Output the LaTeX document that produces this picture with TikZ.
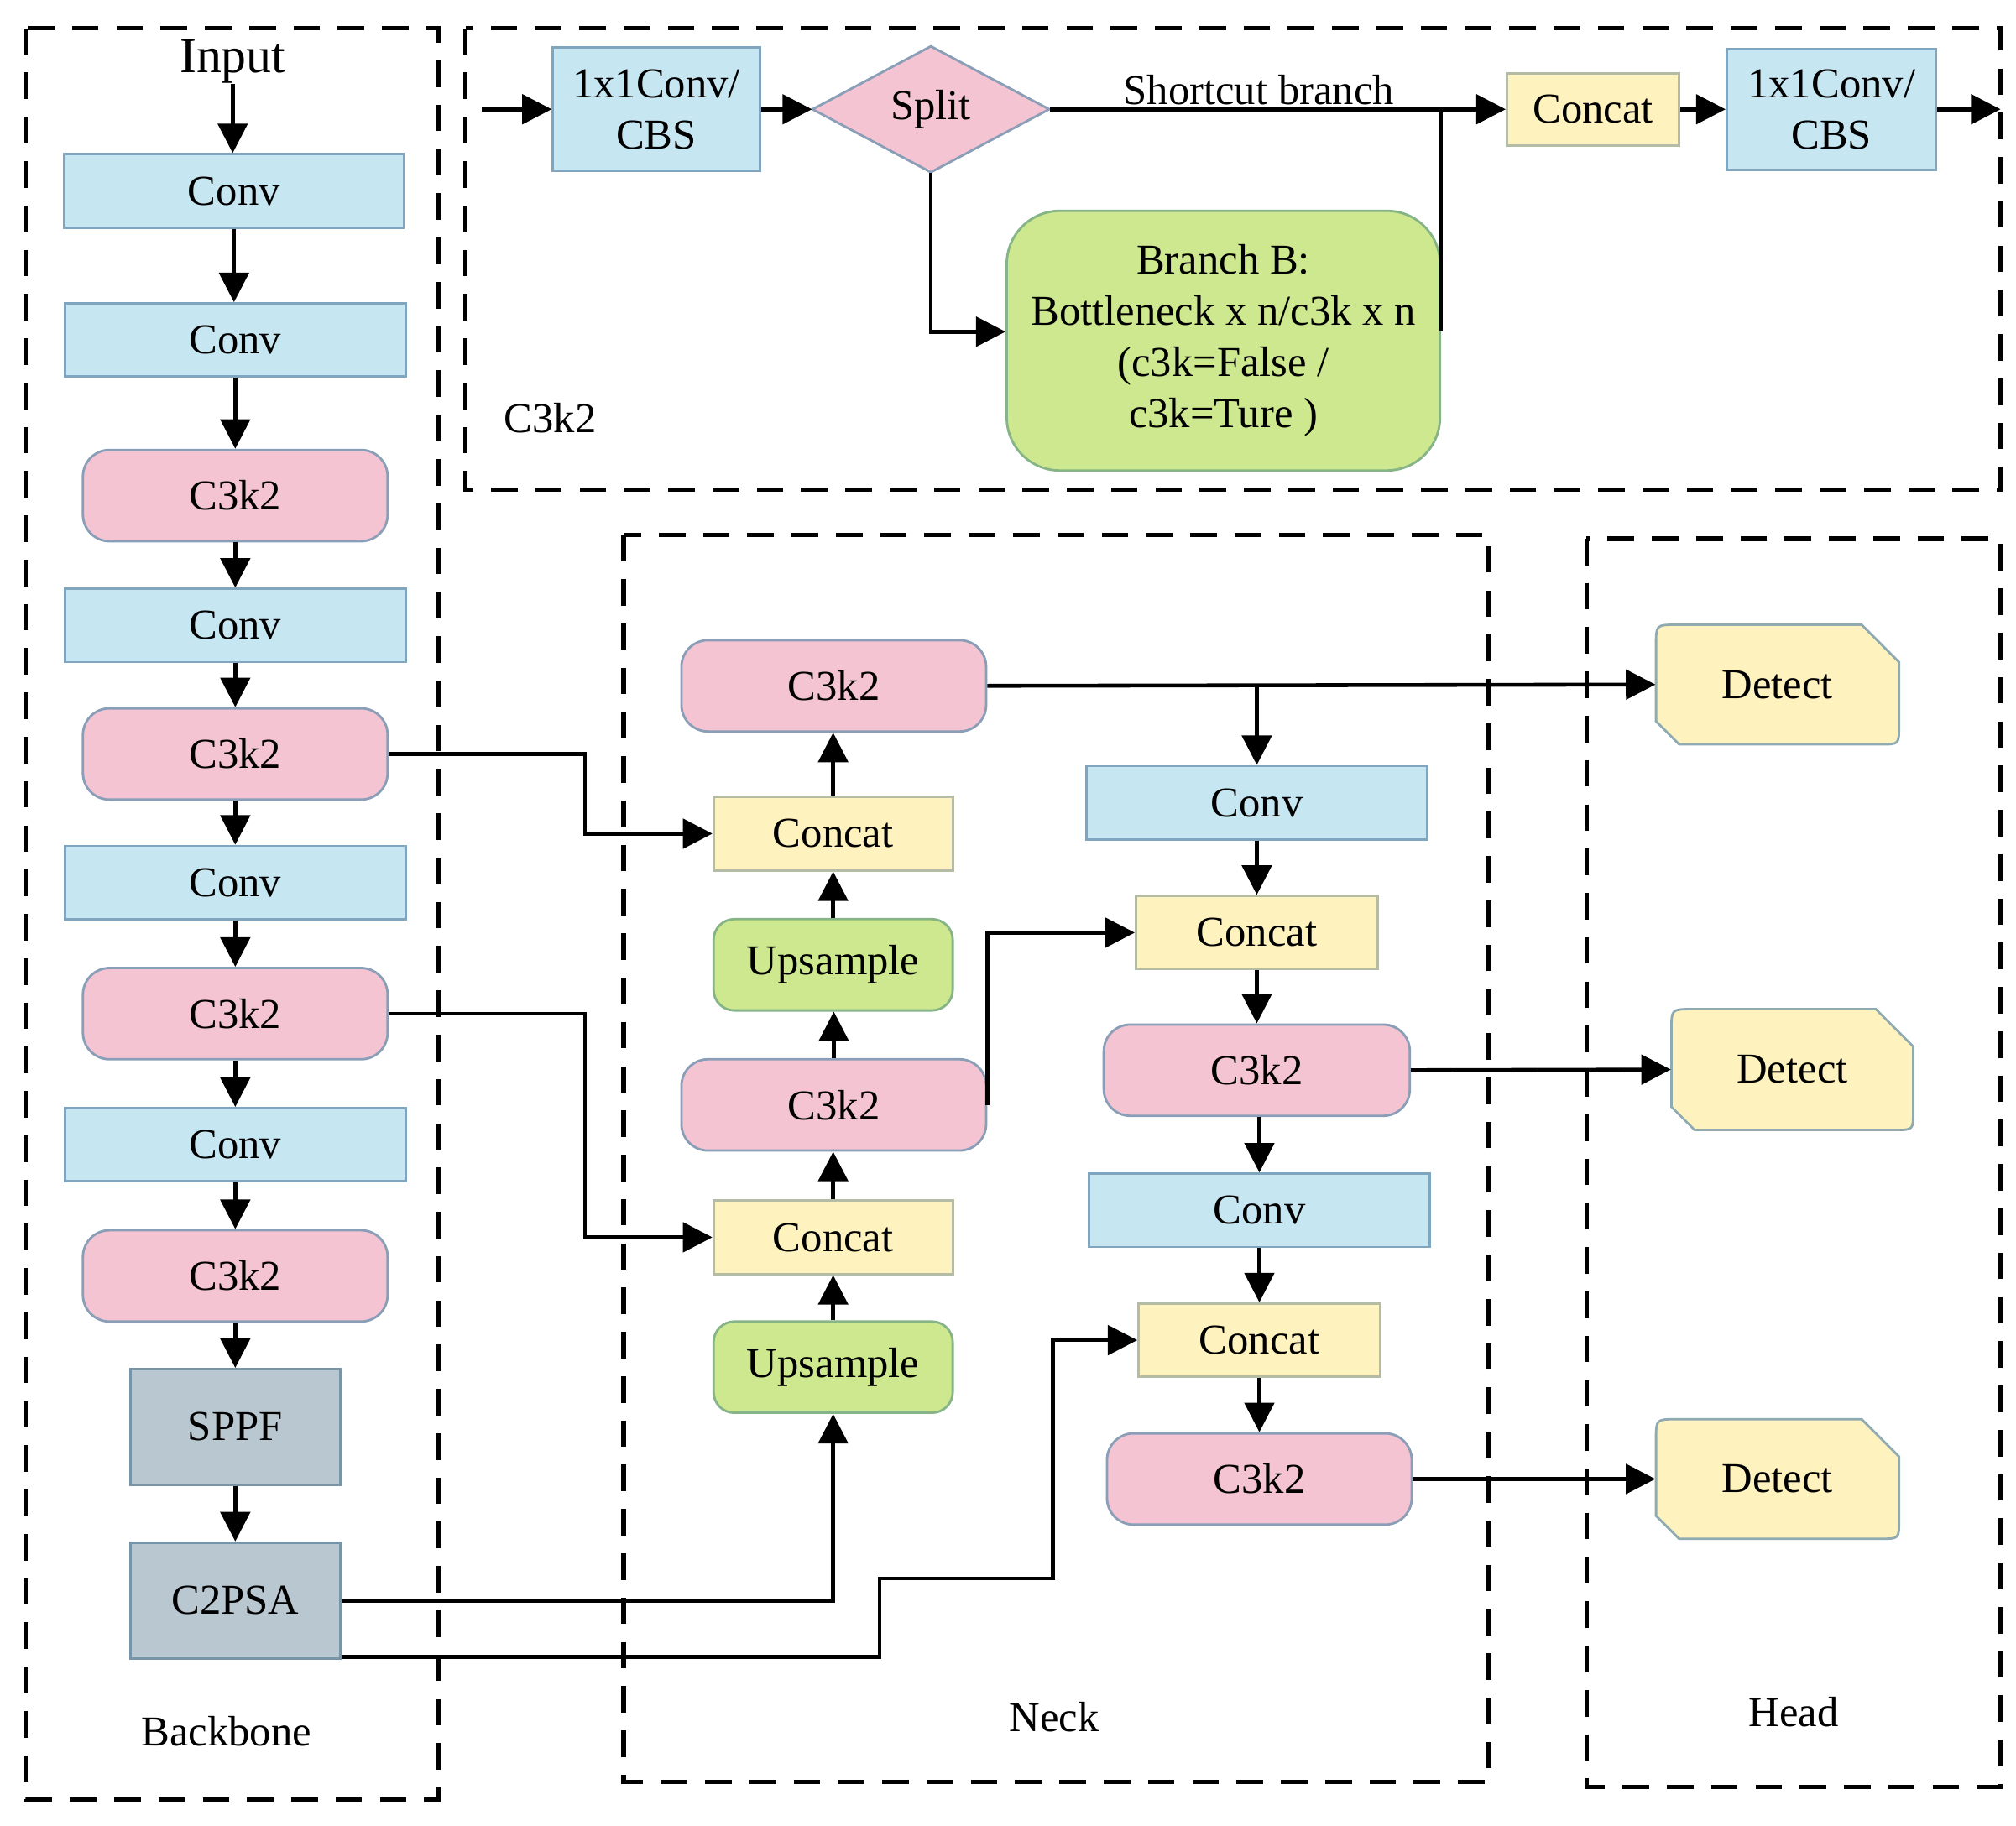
\documentclass[tikz,border=0pt]{standalone}
\usepackage{fontspec}
\setmainfont{Liberation Serif}
\usetikzlibrary{arrows.meta,calc}
\definecolor{convfill}{HTML}{C6E6F2}
\definecolor{convline}{HTML}{7FA6BE}
\definecolor{pinkfill}{HTML}{F4C4D2}
\definecolor{pinkline}{HTML}{8A9EB8}
\definecolor{yelfill}{HTML}{FEF2BE}
\definecolor{yelline}{HTML}{B4BCA6}
\definecolor{grnfill}{HTML}{CDE88E}
\definecolor{grnline}{HTML}{86B486}
\definecolor{grayfill}{HTML}{B9C7D0}
\definecolor{grayline}{HTML}{7895A8}
\definecolor{detline}{HTML}{8FAAB0}
\newcommand{\bxfont}{\fontsize{14.4}{17.4}\selectfont}
\newcommand{\infont}{\fontsize{17}{20}\selectfont}
\newcommand{\mydetect}[4]{%
  \filldraw[fill=yelfill, draw=detline, line width=0.8pt]
    (#3-29,#2) -- (#3,#2+29) -- (#3,#4-14) .. controls (#3,#4) .. (#3-14,#4)
    -- (#1+18,#4) -- (#1,#4-18) -- (#1,#2+16) .. controls (#1,#2) .. (#1+16,#2) -- cycle;}
\begin{document}
\begin{tikzpicture}[x=0.0153cm,y=-0.0153cm,
  base/.style={inner sep=0pt, font=\bxfont, text=black, align=center},
  sz/.style 2 args={minimum width=#1*0.0153cm, minimum height=#2*0.0153cm},
  conv/.style={base, rectangle, fill=convfill, draw=convline, line width=0.8pt},
  c3k/.style={base, rectangle, rounded corners=9pt, fill=pinkfill, draw=pinkline, line width=0.8pt, sz={237}{71}},
  cat/.style={base, rectangle, fill=yelfill, draw=yelline, line width=0.8pt},
  ups/.style={base, rectangle, rounded corners=7pt, fill=grnfill, draw=grnline, line width=0.8pt, sz={186}{71}},
  gry/.style={base, rectangle, fill=grayfill, draw=grayline, line width=0.8pt, sz={163}{90}},
  branchbox/.style={base, rectangle, rounded corners=18pt, fill=grnfill, draw=grnline, line width=0.8pt},
  arr/.style={line width=1.3pt, -{Triangle[length=10pt,width=10pt]}},
  ln/.style={line width=1.3pt},
  grp/.style={dash pattern=on 9pt off 6pt, line width=1.5pt}]
\useasboundingbox (0,0) rectangle (1568,1420);
\fill[white] (0,0) rectangle (1568,1420);

% groups
\draw[grp] (20,22) rectangle (341,1400);
\draw[grp] (362,22) rectangle (1556,381);
\draw[grp] (485,416) rectangle (1158,1386);
\draw[grp] (1234,419) rectangle (1556,1390);

% labels
\node[base] (lbb) at (176,1347) {Backbone};
\node[base] (lneck) at (820,1336) {Neck};
\node[base] (lhead) at (1395,1332) {Head};
\node[base] (lc3k2) at (428,325) {C3k2};
\node[base, font=\infont] (input) at (181,48) {Input};

% backbone
\node[conv, sz={264}{57}] (b1) at (182,148.5) {Conv};
\node[conv, sz={265}{57}] (b2) at (183,264.5) {Conv};
\node[c3k] (b3) at (183,385.5) {C3k2};
\node[conv, sz={265}{57}] (b4) at (183,486.5) {Conv};
\node[c3k] (b5) at (183,586.5) {C3k2};
\node[conv, sz={265}{57}] (b6) at (183,686.5) {Conv};
\node[c3k] (b7) at (183,788.5) {C3k2};
\node[conv, sz={265}{57}] (b8) at (183,890.5) {Conv};
\node[c3k] (b9) at (183,992.5) {C3k2};
\node[gry] (b10) at (183,1110) {SPPF};
\node[gry] (b11) at (183,1245) {C2PSA};
\foreach \a/\b in {input/b1,b1/b2,b2/b3,b3/b4,b4/b5,b5/b6,b6/b7,b7/b8,b8/b9,b9/b10,b10/b11}
  \draw[arr] (\a.south) -- (\a.south |- \b.north);

% neck
\node[c3k] (n1) at (648.5,533.5) {C3k2};
\node[cat, sz={186}{57}] (n2) at (648,648.5) {Concat};
\node[ups] (n3) at (648,750.5) {Upsample};
\node[c3k] (n4) at (648.5,859.5) {C3k2};
\node[cat, sz={186}{57}] (n5) at (648,962.5) {Concat};
\node[ups] (n6) at (648,1063.5) {Upsample};
\node[conv, sz={265}{57}] (r1) at (977.5,624.5) {Conv};
\node[cat, sz={188}{57}] (r2) at (977.5,725.5) {Concat};
\node[c3k, sz={238}{71}] (r3) at (977.5,832.5) {C3k2};
\node[conv, sz={265}{57}] (r4) at (979.5,941.5) {Conv};
\node[cat, sz={188}{57}] (r5) at (979.5,1042.5) {Concat};
\node[c3k] (r6) at (979.5,1150.5) {C3k2};
\foreach \a/\b in {n6/n5,n5/n4,n4/n3,n3/n2,n2/n1}
  \draw[arr] (\a.north) -- (\a.north |- \b.south);
\foreach \a/\b in {r1/r2,r2/r3,r4/r5,r5/r6}
  \draw[arr] (\a.south) -- (\a.south |- \b.north);
\draw[arr] (r3.south -| r4.north) -- (r4.north);

% head
\mydetect{1288}{486}{1477}{579}
\node[base, sz={189}{93}] (d1) at (1382.5,532.5) {Detect};
\mydetect{1300}{785}{1488}{879}
\node[base, sz={188}{94}] (d2) at (1394,832) {Detect};
\mydetect{1288}{1104}{1477}{1197}
\node[base, sz={189}{93}] (d3) at (1382.5,1150.5) {Detect};

% connections
\coordinate (j1) at (455,0);
\draw[arr] (n1.east) -- (d1.west);
\draw[arr] (n1.east -| r1.north) -- (r1.north);
\draw[arr] (r3.east) -- (d2.west);
\draw[arr] (r6.east) -- (d3.west);
\draw[arr] (b5.east) -- (b5.east -| j1) |- (n2.west);
\draw[arr] (b7.east) -- (b7.east -| j1) |- (n5.west);
\draw[arr] (b11.east) -| (n6.south);
\draw[arr] ($(b11.south east)+(0,-2)$) -| (684,1228) -- (819,1228) |- (r5.west);
\draw[arr] (n4.east) |- (r2.west);

% top C3k2 detail
\coordinate (tin) at (375,85);
\coordinate (tout) at (1556,85);
\node[conv, sz={161}{96}] (t1) at (510.5,85) {1x1Conv/\\CBS};
\filldraw[fill=pinkfill, draw=pinkline, line width=0.8pt] (632,85) -- (724,36) -- (816,85) -- (724,134) -- cycle;
\node[base, sz={184}{98}] (sp) at (724,85) {Split};
\node[cat, sz={134}{56}] (tc) at (1239,85) {Concat};
\node[conv, sz={163}{94}] (t2) at (1424.5,85) {1x1Conv/\\CBS};
\node[branchbox, sz={337}{202}] (bb) at (951.5,265) {Branch B:\\Bottleneck x n/c3k x n\\(c3k=False /\\c3k=Ture )};
\node[base] (sc) at (979,70) {Shortcut branch};
\draw[arr] (tin) -- (t1.west);
\draw[arr] (t1.east) -- (sp.west);
\draw[arr] (sp.east) -- (tc.west);
\draw[arr] (tc.east) -- (t2.west);
\draw[arr] (t2.east) -- (tout);
\draw[arr] (sp.south) |- ($(bb.west)+(0,-7)$);
\draw[ln] ($(bb.east)+(0,-7)$) -- (bb.east |- sp.east);
\end{tikzpicture}
\end{document}
